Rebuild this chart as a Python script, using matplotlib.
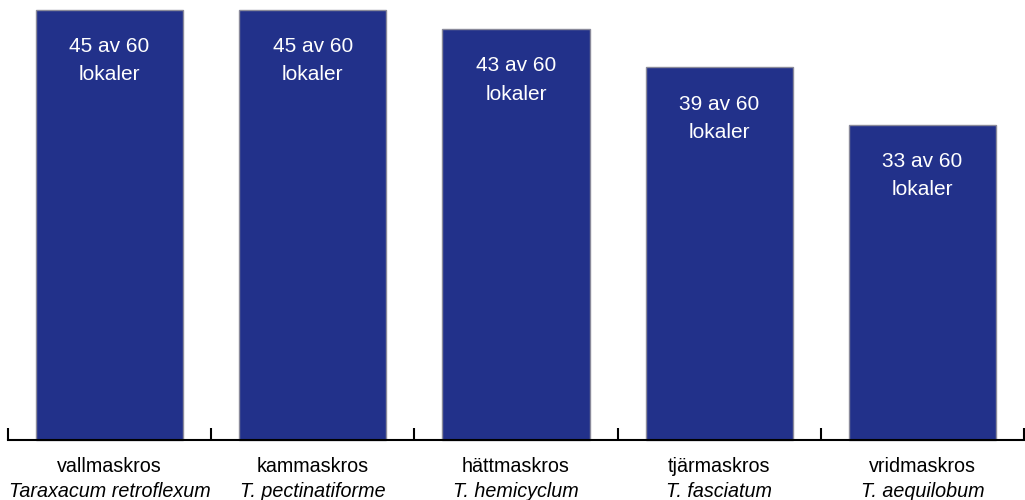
import matplotlib.pyplot as plt
import numpy as np

plt.rcParams['font.family'] = ['Liberation Sans', 'DejaVu Sans']

common_names = ['vallmaskros', 'kammaskros', 'hättmaskros', 'tjärmaskros', 'vridmaskros']
latin_names = ['Taraxacum retroflexum', 'T. pectinatiforme', 'T. hemicyclum',
               'T. fasciatum', 'T. aequilobum']
sites = [45, 45, 43, 39, 33]
total = 60

fig = plt.figure(figsize=(10.25, 5), dpi=100)
ax = fig.add_axes([8 / 1025, 60 / 500, 1016 / 1025, 430 / 500])

x = np.arange(len(sites))
ax.bar(x, sites, width=0.725, color='#22318a', edgecolor='#8a8a9a', linewidth=1, clip_on=False)

# label lines sit ~37 px and ~65 px below each bar top (430 px = 45 units)
for xi, v in zip(x, sites):
    ax.text(xi, v - 3.85, f'{v} av {total}', ha='center', va='center',
            color='white', fontsize=15)
    ax.text(xi, v - 6.8, 'lokaler', ha='center', va='center',
            color='white', fontsize=15)

for xi, c, l in zip(x, common_names, latin_names):
    ax.text(xi, -0.061, c, transform=ax.get_xaxis_transform(), ha='center', va='center',
            fontsize=14.2)
    ax.text(xi, -0.119, l, transform=ax.get_xaxis_transform(), ha='center', va='center',
            fontsize=14.2, style='italic')

ax.set_xlim(-0.5, len(sites) - 0.5)
ax.set_ylim(0, 45)
for side in ['top', 'right', 'left']:
    ax.spines[side].set_visible(False)
ax.spines['bottom'].set_linewidth(1.5)
ax.set_yticks([])
ax.set_xticks(np.arange(-0.5, len(sites), 1.0))
ax.set_xticklabels([])
ax.tick_params(axis='x', direction='in', length=9, width=1.5)

fig.savefig('out.png', dpi=100)
